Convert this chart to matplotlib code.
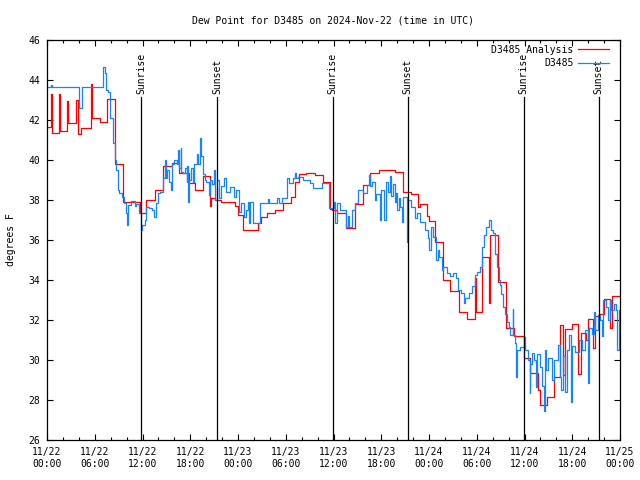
import numpy as np
import matplotlib
matplotlib.use("Agg")
import matplotlib.pyplot as plt
from matplotlib.ticker import MultipleLocator

plt.rcParams['font.family'] = ['DejaVu Sans Mono']

# hours since 11/22 00:00 UTC, dew point (F)
analysis_t = [0.0, 0.46, 0.6, 1.5, 1.65, 2.55, 2.7, 3.6, 3.85, 4.3, 5.5, 5.7, 6.65, 7.5,
              8.5, 9.6, 11.67, 12.5, 13.55, 14.6, 15.65, 16.6, 17.8, 18.6, 19.6, 20.45,
              20.55, 21.1, 21.9, 23.6, 24.0, 24.66, 26.55, 26.9, 27.6, 28.6, 29.7, 30.7,
              31.15, 31.7, 32.6, 33.7, 34.7, 35.55, 35.85, 36.4, 37.56, 38.7, 39.65, 40.6,
              41.7, 43.7, 44.7, 45.8, 46.65, 46.9, 47.7, 48.0, 48.7, 49.7, 50.7, 51.75,
              52.8, 53.75, 53.9, 54.7, 55.55, 55.7, 56.7, 57.65, 58.7, 59.96, 60.7, 61.7,
              61.9, 62.8, 63.7, 64.5, 64.8, 65.1, 66.0, 66.74, 67.1, 67.7, 68.0, 68.6,
              68.9, 69.3, 70.0, 70.8, 70.95, 72.0]
analysis_v = [41.67, 43.3, 41.33, 43.3, 41.47, 42.95, 41.83, 43.0, 41.3, 41.58, 43.8, 42.08,
              41.92, 43.03, 39.8, 37.9, 37.33, 38.0, 38.5, 39.7, 39.83, 39.33, 38.83, 38.5,
              39.2, 37.7, 38.08, 38.0, 37.92, 37.72, 37.25, 36.5, 36.83, 37.17, 37.33, 37.5,
              37.83, 38.17, 38.92, 39.28, 39.33, 39.25, 38.92, 37.55, 37.5, 37.33, 36.58,
              37.78, 38.75, 39.33, 39.5, 39.38, 38.38, 38.28, 37.63, 37.8, 37.2, 36.97,
              35.88, 34.0, 33.47, 32.42, 32.05, 34.08, 32.42, 35.13, 32.87, 36.25, 33.88,
              31.58, 31.2, 30.08, 29.33, 28.5, 27.75, 28.13, 29.17, 31.75, 29.25, 31.53,
              31.78, 29.3, 31.37, 31.0, 32.03, 30.6, 32.2, 32.28, 33.03, 31.6, 33.22, 33.22]

obs_t = [0.0, 0.55, 0.65, 4.06, 4.35, 4.45, 7.07, 7.3, 7.45, 7.65, 7.9, 8.3, 8.5, 8.7, 8.9,
         9.0, 9.45, 9.65, 9.9, 10.0, 10.15, 10.5, 11.0, 11.2, 11.6, 11.85, 11.95, 12.3,
         12.5, 12.8, 13.2, 13.4, 13.65, 13.9, 14.2, 14.6, 14.8, 14.95, 15.1, 15.3, 15.55,
         15.75, 15.9, 16.3, 16.45, 16.6, 16.8, 16.9, 17.1, 17.4, 17.55, 17.65, 17.75,
         17.85, 18.1, 18.3, 18.5, 18.8, 19.0, 19.25, 19.4, 19.6, 19.8, 20.0, 20.3, 20.45,
         20.7, 21.0, 21.15, 21.3, 21.55, 21.85, 22.3, 22.5, 22.95, 23.5, 23.7, 24.1,
         24.35, 24.75, 25.0, 25.25, 25.35, 25.55, 25.9, 26.75, 27.8, 27.95, 28.95, 29.1,
         29.5, 30.15, 30.4, 30.95, 31.1, 31.25, 31.57, 32.2, 33.0, 33.45, 34.55, 35.42,
         35.97, 36.1, 36.2, 36.4, 36.8, 37.6, 37.8, 37.95, 38.3, 38.7, 39.1, 39.7, 40.15,
         40.5, 40.6, 40.9, 41.2, 41.4, 41.8, 42.0, 42.4, 42.55, 42.9, 43.1, 43.25, 43.5,
         43.7, 43.9, 44.0, 44.2, 44.4, 44.55, 44.7, 45.2, 45.35, 45.8, 46.2, 46.5, 46.85,
         47.5, 47.9, 48.05, 48.2, 48.5, 48.9, 49.1, 49.3, 49.6, 49.8, 50.2, 50.6, 51.0,
         51.4, 51.6, 52.0, 52.4, 52.55, 53.0, 53.4, 53.75, 54.0, 54.4, 54.6, 54.85, 55.1,
         55.55, 55.85, 56.1, 56.3, 56.5, 56.75, 56.9, 57.1, 57.3, 57.5, 57.8, 58.0, 58.2,
         58.5, 58.6, 58.8, 58.95, 59.1, 59.4, 59.9, 60.1, 60.4, 60.65, 60.75, 61.0, 61.2,
         61.5, 61.6, 61.9, 62.2, 62.4, 62.55, 62.75, 63.0, 63.5, 63.75, 64.2, 64.4, 64.6,
         64.8, 65.1, 65.3, 65.6, 65.85, 66.0, 66.4, 66.9, 67.2, 67.6, 67.95, 68.1, 68.5,
         68.7, 68.9, 69.2, 69.5, 69.7, 69.9, 70.3, 70.5, 70.7, 70.9, 71.2, 71.5, 71.6,
         71.85, 72.0]
obs_v = [43.67, 43.75, 43.67, 42.62, 43.2, 43.63, 44.67, 44.33, 43.5, 43.4, 42.08, 40.83,
         40.0, 39.5, 38.5, 38.33, 38.17, 37.83, 37.33, 36.75, 37.75, 37.97, 37.7, 37.8,
         37.33, 36.5, 36.75, 37.0, 37.67, 37.6, 37.5, 37.17, 37.83, 38.33, 38.4, 39.08,
         40.0, 39.08, 39.5, 38.9, 38.5, 39.8, 40.0, 39.8, 40.5, 39.6, 40.58, 39.4, 39.33,
         39.6, 38.9, 39.7, 37.9, 39.0, 39.6, 38.9, 39.8, 40.3, 39.8, 41.08, 40.2, 39.3,
         39.0, 38.9, 38.25, 39.0, 38.8, 39.5, 38.0, 39.0, 38.08, 38.7, 39.1, 38.4, 38.67,
         38.17, 38.5, 37.42, 37.83, 37.17, 37.5, 37.9, 36.83, 37.9, 36.83, 37.83, 38.05,
         37.87, 38.08, 37.87, 38.08, 39.08, 38.83, 39.08, 39.37, 39.08, 39.17, 39.0, 38.83,
         38.58, 38.83, 37.58, 37.58, 37.9, 36.83, 37.83, 37.5, 36.67, 37.2, 36.67, 37.5,
         37.83, 38.5, 38.33, 38.75, 39.25, 38.7, 38.9, 38.0, 38.3, 37.0, 38.5, 37.0, 38.92,
         38.4, 39.2, 38.2, 38.8, 37.9, 38.33, 37.5, 38.08, 37.67, 36.9, 38.17, 35.92, 38.0,
         37.67, 37.08, 37.33, 36.92, 36.5, 36.08, 35.5, 36.67, 36.17, 35.0, 35.5, 35.17,
         34.5, 34.67, 34.33, 34.2, 34.35, 34.08, 33.5, 33.33, 32.83, 33.08, 33.33, 33.7,
         34.25, 34.42, 34.67, 35.67, 36.25, 36.67, 37.0, 36.5, 36.33, 35.3, 34.67, 34.0,
         33.75, 33.3, 32.67, 32.3, 31.9, 31.67, 31.25, 32.53, 31.25, 30.83, 29.17, 30.5,
         30.67, 31.17, 30.5, 30.0, 28.33, 29.8, 30.33, 30.0, 28.67, 30.3, 29.67, 28.7,
         27.47, 30.5, 29.5, 30.1, 29.0, 30.0, 30.75, 29.17, 28.5, 30.2, 28.42, 30.5, 31.25,
         27.92, 30.7, 30.4, 31.0, 30.5, 31.5, 28.83, 31.6, 31.3, 32.42, 31.5, 32.25, 32.0,
         31.2, 33.0, 32.67, 32.0, 33.0, 32.5, 32.8, 32.5, 30.5, 32.5, 32.6]

sunrise = [11.85, 35.88, 59.9]
sunset = [21.35, 45.3, 69.32]

tick_labels = ["11/22\n00:00", "11/22\n06:00", "11/22\n12:00", "11/22\n18:00",
               "11/23\n00:00", "11/23\n06:00", "11/23\n12:00", "11/23\n18:00",
               "11/24\n00:00", "11/24\n06:00", "11/24\n12:00", "11/24\n18:00",
               "11/25\n00:00"]

fig = plt.figure(figsize=(6.4, 4.8), dpi=100)
ax = fig.add_axes([47/640, 40/480, 573/640, 400/480])

ax.plot(analysis_t, analysis_v, drawstyle='steps-post', color='#ff0000', lw=0.9,
        label='D3485 Analysis')
ax.plot(obs_t, obs_v, drawstyle='steps-post', color='#1585ff', lw=0.9, label='D3485')

for t in sunrise:
    ax.plot([t, t], [26, 43.15], color='black', lw=0.9)
    ax.text(t, 43.3, 'Sunrise', rotation=90, ha='center', va='bottom', fontsize=7)
for t in sunset:
    ax.plot([t, t], [26, 43.15], color='black', lw=0.9)
    ax.text(t, 43.3, 'Sunset', rotation=90, ha='center', va='bottom', fontsize=7)

ax.set_xlim(0, 72)
ax.set_ylim(26, 46)
ax.set_xticks(np.arange(0, 73, 6))
ax.set_xticklabels(tick_labels)
ax.xaxis.set_minor_locator(MultipleLocator(2))
ax.set_yticks(np.arange(26, 47, 2))
ax.tick_params(which='both', direction='in', top=True, right=True, labelsize=7,
               width=0.8)
ax.tick_params(which='major', length=4.5, pad=5)
ax.tick_params(which='minor', length=2.5)
for s in ax.spines.values():
    s.set_linewidth(0.9)

ax.set_ylabel('degrees F', fontsize=7, labelpad=9)
ax.set_title('Dew Point for D3485 on 2024-Nov-22 (time in UTC)', fontsize=7, pad=12)

ax.legend(loc='upper right', frameon=False, markerfirst=False, fontsize=7,
          handlelength=3.2, handletextpad=0.5, labelspacing=0.35,
          borderaxespad=0.1, bbox_to_anchor=(0.99, 1.0))

fig.savefig('out.png', dpi=100)
